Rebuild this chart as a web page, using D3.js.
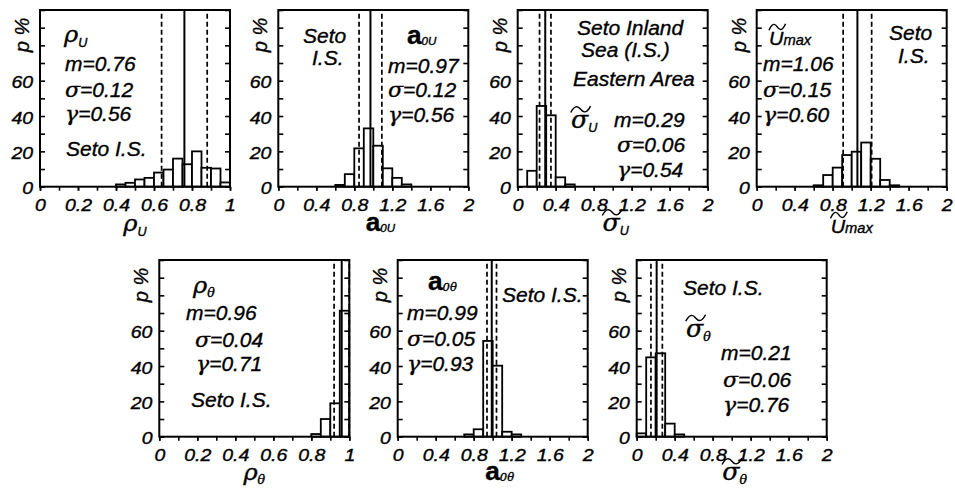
<!DOCTYPE html>
<html>
<head>
<meta charset="utf-8">
<script src="https://cdn.jsdelivr.net/npm/d3@7"></script>
<style>
    body { margin: 0; background: #fff; }
    svg { display: block; }
    text { font-family: "Liberation Sans", Arial, sans-serif; font-style: italic; fill: #000; stroke: #000; stroke-width: 0.35px; }
    .greek { font-family: "DejaVu Serif", serif; font-style: italic; }
</style>
</head>
<body>
<svg id="chart" width="955" height="489"></svg>
<script>
// bin start values and percentages
const rhoUStart = [0.40, 0.45, 0.50, 0.55, 0.60, 0.65, 0.70, 0.75, 0.80, 0.85, 0.90, 0.95];
const rhoUPct = [1.3, 2.2, 4.1, 5, 8, 9.7, 15.9, 12.7, 20, 10.7, 10.3, 2.4];
const a0UStart = [0.6, 0.7, 0.8, 0.9, 1.0, 1.1, 1.2, 1.3];
const a0UPct = [1, 7.1, 21.7, 33, 23.2, 10.4, 5, 1.3];
const sigUStart = [0.1, 0.2, 0.3, 0.4, 0.5];
const sigUPct = [9, 45.7, 40.4, 5.3, 1.3];
const uMaxStart = [0.6, 0.7, 0.8, 0.9, 1.0, 1.1, 1.2, 1.3, 1.4];
const uMaxPct = [0.8, 6.6, 10.8, 17.9, 19.8, 25, 15.8, 3.8, 0.8];
const rhoTStart = [0.80, 0.85, 0.90, 0.95];
const rhoTPct = [1.5, 10, 18.9, 71.3];
const a0TStart = [0.7, 0.8, 0.9, 1.0, 1.1, 1.2];
const a0TPct = [1.3, 4.2, 54.2, 40.2, 2.8, 1.3];
const sigTStart = [0.0, 0.1, 0.2, 0.3, 0.4];
const sigTPct = [1.9, 44.9, 47.2, 7.4, 1.3];

// m, sigma, gamma of each panel
const statM = [0.76, 0.97, 0.29, 1.06, 0.96, 0.99, 0.21];
const statS = [0.12, 0.12, 0.06, 0.15, 0.04, 0.05, 0.06];
const statG = [0.56, 0.56, 0.54, 0.60, 0.71, 0.93, 0.76];

const xLabels1 = [0, 0.2, 0.4, 0.6, 0.8, 1];
const xLabels2 = [0, 0.4, 0.8, 1.2, 1.6, 2];
const yLabels = [0, 20, 40, 60];

const svg = d3.select('#chart');
const W = 190, H = 176.7, SX = 1.05, TICK_SX = 1.22, TICK_FS = 16, NOTE_FS = 20;

const panels = [
    {x0: 40, top: 10, xmax: 1, bw: 0.05, minor: 0.1, labels: xLabels1, start: rhoUStart, pct: rhoUPct},
    {x0: 278.3, top: 10, xmax: 2, bw: 0.1, minor: 0.2, labels: xLabels2, start: a0UStart, pct: a0UPct},
    {x0: 517.7, top: 10, xmax: 2, bw: 0.1, minor: 0.2, labels: xLabels2, start: sigUStart, pct: sigUPct},
    {x0: 756.7, top: 10, xmax: 2, bw: 0.1, minor: 0.2, labels: xLabels2, start: uMaxStart, pct: uMaxPct},
    {x0: 159.3, top: 260, xmax: 1, bw: 0.05, minor: 0.1, labels: xLabels1, start: rhoTStart, pct: rhoTPct},
    {x0: 397.7, top: 260, xmax: 2, bw: 0.1, minor: 0.2, labels: xLabels2, start: a0TStart, pct: a0TPct},
    {x0: 636.7, top: 260, xmax: 2, bw: 0.1, minor: 0.2, labels: xLabels2, start: sigTStart, pct: sigTPct}
];

const isGreek = c => /[\u0370-\u03ff]/.test(c);

/**
 * italic note, slightly widened like the original figure; a leading greek letter gets a serif face
 */
const note = (x, y, str, size = NOTE_FS) => {
    const t = svg.append('text')
        .attr('transform', `translate(${x},${y}) scale(${SX},1)`)
        .attr('font-size', size);
    if (isGreek(str[0])) {
        t.append('tspan').attr('class', 'greek').attr('font-size', size * 1.05).text(str[0]);
        t.append('tspan').text(str.slice(1));
    } else {
        t.text(str);
    }
};

/**
 * symbol with subscript, optional tilde over the first glyph
 */
const symbol = (x, y, main, sub, o) => {
    const grp = svg.append('g').attr('transform', `translate(${x},${y}) scale(${SX},1)`);
    const t = grp.append('text').attr('text-anchor', o.anchor || 'start');
    t.append('tspan')
        .attr('class', isGreek(main) ? 'greek' : null)
        .attr('font-size', o.size)
        .attr('font-weight', o.bold ? 'bold' : null)
        .style('font-style', o.bold ? 'normal' : null)
        .text(main);
    t.append('tspan')
        .attr('class', isGreek(sub) ? 'greek' : null)
        .attr('font-size', o.subSize)
        .attr('dy', o.subDy || 0)
        .text(sub);
    if (o.tilde) {
        const b = t.node().getExtentOfChar(0);
        const cx = b.x + b.width / 2 + 1, w = Math.max(b.width * 1.15, 15), cy = -o.size * o.tilde, a = 3.2;
        grp.append('path')
            .attr('d', `M${cx - w / 2},${cy + a}Q${cx - w / 4},${cy - 2 * a} ${cx},${cy}T${cx + w / 2},${cy - a}`)
            .attr('fill', 'none')
            .attr('stroke', '#000')
            .attr('stroke-width', 1.4);
    }
};

const styleTicks = sel => {
    sel.select('.domain').remove();
    sel.selectAll('line').attr('stroke', '#000').attr('stroke-width', 1.6);
    sel.selectAll('text')
        .attr('font-size', TICK_FS)
        .attr('font-family', null)
        .attr('fill', null)
        .attr('transform', `scale(${TICK_SX},1)`);
};

const drawPanel = (p, i) => {
    const x = d3.scaleLinear().domain([0, p.xmax]).range([p.x0, p.x0 + W]);
    const y = d3.scaleLinear().domain([0, 100]).range([p.top + H, p.top]);
    const g = svg.append('g');

    g.append('g').selectAll('rect')
        .data(p.start.map((s, k) => ({s, v: p.pct[k]})))
        .join('rect')
        .attr('x', d => x(d.s))
        .attr('y', d => y(d.v))
        .attr('width', d => x(d.s + p.bw) - x(d.s))
        .attr('height', d => y(0) - y(d.v))
        .attr('fill', '#fff')
        .attr('stroke', '#000')
        .attr('stroke-width', 1.8);

    const m = statM[i], s = statS[i];
    [m - s, m + s].forEach(v => {
        g.append('line')
            .attr('x1', x(v)).attr('x2', x(v))
            .attr('y1', y(0)).attr('y2', y(100))
            .attr('stroke', '#000')
            .attr('stroke-width', 1.7)
            .attr('stroke-dasharray', '5,3');
    });
    g.append('line')
        .attr('x1', x(m)).attr('x2', x(m))
        .attr('y1', y(0)).attr('y2', y(100))
        .attr('stroke', '#000')
        .attr('stroke-width', 2);

    const yTicks = d3.range(0, 101, 10);
    g.append('g')
        .attr('transform', `translate(${p.x0},0)`)
        .call(d3.axisLeft(y).tickValues(yTicks).tickSizeInner(-5).tickSizeOuter(0).tickPadding(5.6)
            .tickFormat(d => yLabels.includes(d) ? d : ''))
        .call(styleTicks)
        .call(sel => sel.selectAll('text').attr('dy', '0.45em'));
    g.append('g')
        .attr('transform', `translate(${p.x0 + W},0)`)
        .call(d3.axisRight(y).tickValues(yTicks).tickSizeInner(-5).tickSizeOuter(0).tickFormat(''))
        .call(styleTicks);

    const minor = d3.range(0, p.xmax + 1e-9, p.minor);
    g.append('g')
        .attr('transform', `translate(0,${p.top + H})`)
        .call(d3.axisBottom(x).tickValues(minor).tickSizeInner(4).tickSizeOuter(0).tickFormat(''))
        .call(styleTicks);
    g.append('g')
        .attr('transform', `translate(0,${p.top + H})`)
        .call(d3.axisBottom(x).tickValues(p.labels).tickSizeInner(4).tickSizeOuter(0).tickPadding(8.5)
            .tickFormat(d3.format('')))
        .call(styleTicks);

    g.append('rect')
        .attr('x', p.x0).attr('y', p.top)
        .attr('width', W).attr('height', H)
        .attr('fill', 'none')
        .attr('stroke', '#000')
        .attr('stroke-width', 2);

    svg.append('text')
        .attr('transform', `translate(${p.x0 - 11},${p.top + 25}) rotate(-90)`)
        .attr('font-size', 20)
        .attr('text-anchor', 'middle')
        .text('p %');
};

panels.forEach(drawPanel);

const stat = i => [
    `m=${statM[i].toFixed(2)}`,
    `\u03c3=${statS[i].toFixed(2)}`,
    `\u03b3=${statG[i].toFixed(2)}`
];

// panel 1
symbol(64, 42, '\u03c1', 'U', {size: 23, subSize: 12, subDy: 5});
stat(0).forEach((t, k) => note(65, [70.7, 96.7, 120.7][k], t));
note(66, 156, 'Seto I.S.');
// panel 2
note(303, 43, 'Seto');
note(312, 65, 'I.S.');
symbol(407, 44, 'a', '0U', {size: 25, subSize: 11, subDy: 1, bold: true});
stat(1).forEach((t, k) => note(388, [72.7, 96.7, 121.7][k], t));
// panel 3
note(577, 35, 'Seto Inland');
note(581, 56.7, 'Sea (I.S.)');
note(573, 86, 'Eastern Area');
symbol(571, 128, '\u03c3', 'U', {size: 24, subSize: 12, subDy: 4, tilde: 0.78});
stat(2).forEach((t, k) => note([614, 617, 617][k], [126.7, 151.7, 176.7][k], t));
// panel 4
symbol(769, 45, 'U', 'max', {size: 19, subSize: 14, subDy: 0, tilde: 0.95});
stat(3).forEach((t, k) => note(763, [70.7, 96.7, 121.7][k], t));
note(889, 40, 'Seto');
note(898, 63, 'I.S.');
// panel 5
symbol(193, 293, '\u03c1', '\u03b8', {size: 23, subSize: 12, subDy: 4});
stat(4).forEach((t, k) => note([186, 195, 196][k], [320, 346.7, 371][k], t));
note(191, 406.7, 'Seto I.S.');
// panel 6
symbol(428, 290, 'a', '0\u03b8', {size: 25, subSize: 11, subDy: 1, bold: true});
stat(5).forEach((t, k) => note(407, [320, 346, 371][k], t));
note(502, 301.7, 'Seto I.S.');
// panel 7
note(683, 295, 'Seto I.S.');
symbol(686, 336.7, '\u03c3', '\u03b8', {size: 24, subSize: 12, subDy: 4, tilde: 0.78});
stat(6).forEach((t, k) => note([721, 723, 723][k], [360, 386.7, 411.7][k], t));

// axis titles
const mid = p => p.x0 + W / 2;
symbol(mid(panels[0]), 231, '\u03c1', 'U', {size: 23, subSize: 12, subDy: 5, anchor: 'middle'});
symbol(mid(panels[1]) + 7, 231, 'a', '0U', {size: 25, subSize: 11, subDy: 1, bold: true, anchor: 'middle'});
symbol(mid(panels[2]) + 3, 231, '\u03c3', 'U', {size: 24, subSize: 12, subDy: 4, tilde: 0.78, anchor: 'middle'});
symbol(mid(panels[3]), 233, 'U', 'max', {size: 19, subSize: 14, tilde: 0.95, anchor: 'middle'});
symbol(mid(panels[4]), 480, '\u03c1', '\u03b8', {size: 23, subSize: 12, subDy: 4, anchor: 'middle'});
symbol(mid(panels[5]) + 7, 480, 'a', '0\u03b8', {size: 25, subSize: 11, subDy: 1, bold: true, anchor: 'middle'});
symbol(mid(panels[6]) + 3, 480, '\u03c3', '\u03b8', {size: 24, subSize: 12, subDy: 4, tilde: 0.78, anchor: 'middle'});
</script>
</body>
</html>
